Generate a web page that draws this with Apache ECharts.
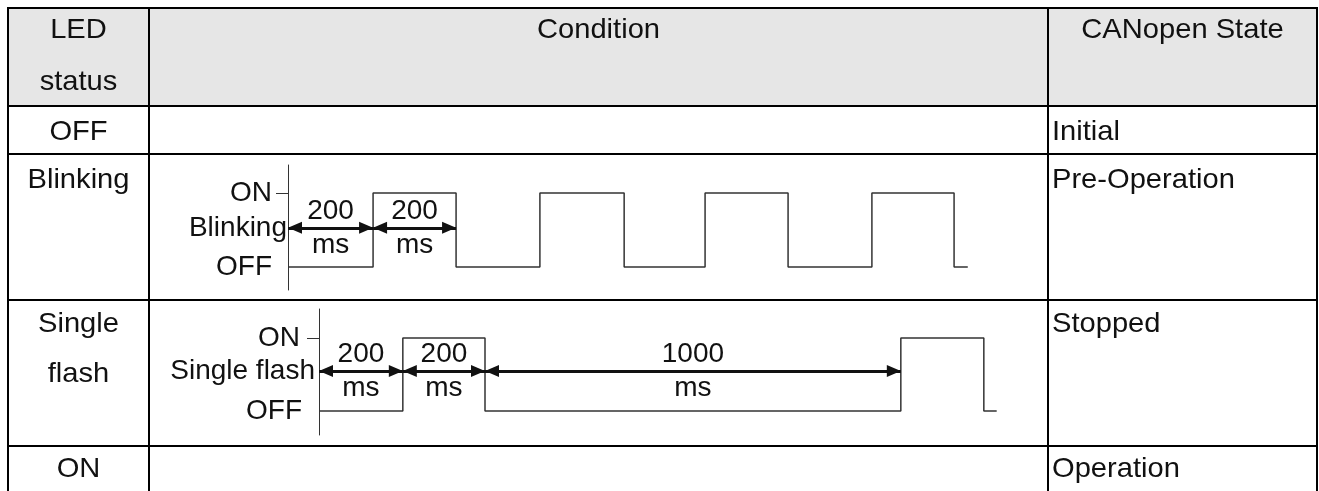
<!DOCTYPE html>
<html><head><meta charset="utf-8">
<script src="https://cdn.jsdelivr.net/npm/echarts@6/dist/echarts.min.js"></script>
<style>html,body{margin:0;padding:0;background:#fff}#c{width:1319px;height:491px}</style>
</head><body><div id="c"></div><script>
// ---- table texts ----
const headerLed = ['LED', 'status'];
const headerCondition = 'Condition';
const headerState = 'CANopen State';
const ledStatus = [['OFF'], ['Blinking'], ['Single', 'flash'], ['ON']];
const canStates = ['Initial', 'Pre-Operation', 'Stopped', 'Operation'];

// ---- Blinking waveform (time in ms, level 0 = OFF, 1 = ON) ----
const blinkTimes  = [0, 205, 405, 607, 810, 1005, 1205, 1407, 1605, 1638];
const blinkLevels = [0, 1, 0, 1, 0, 1, 0, 1, 0, 0];
const blinkSpanStart = [0, 205];
const blinkSpanEnd   = [205, 405];
const blinkSpanValue = ['200', '200'];
const blinkAxisNames = ['OFF', 'Blinking', 'ON'];

// ---- Single flash waveform ----
const flashTimes  = [0, 202, 400, 1402, 1602, 1633];
const flashLevels = [0, 1, 0, 1, 0, 0];
const flashSpanStart = [0, 202, 400];
const flashSpanEnd   = [202, 400, 1402];
const flashSpanValue = ['200', '200', '1000'];
const flashAxisNames = ['OFF', 'Single flash', 'ON'];
const spanUnit = 'ms';

// ---- layout ----
const colX = [8, 149, 1048, 1317];
const rowY = [8, 106, 154, 300, 446];
const FONT = 'Liberation Sans, Arial, sans-serif';
const FS = 28;
const TXT = '#111';
// arrow head: tip at the symbol centre so it touches the end point
const ARROW = 'path://M6,14L12,28L0,28Z M6,0L6.01,0';

const g = [];
g.push({type: 'rect', silent: true, z: 0,
  shape: {x: colX[0], y: rowY[0], width: colX[3] - colX[0], height: rowY[1] - rowY[0]},
  style: {fill: '#e6e6e6'}});
rowY.forEach(y => g.push({type: 'line', silent: true, z: 2,
  shape: {x1: colX[0] - 1, y1: y, x2: colX[3] + 1, y2: y}, style: {stroke: '#000', lineWidth: 2}}));
colX.forEach(x => g.push({type: 'line', silent: true, z: 2,
  shape: {x1: x, y1: rowY[0] - 1, x2: x, y2: 491}, style: {stroke: '#000', lineWidth: 2}}));

function txt(s, x, y, align) {
  g.push({type: 'text', silent: true, z: 3, x: x, y: y, scaleX: 1.04,
    style: {text: s, fontSize: FS, fontFamily: FONT, fill: TXT,
      align: align, verticalAlign: 'middle', textAlign: align, textVerticalAlign: 'middle'}});
}
const c1 = (colX[0] + colX[1]) / 2, c2 = (colX[1] + colX[2]) / 2, c3 = (colX[2] + colX[3]) / 2;
txt(headerLed[0], c1, 30, 'center');
txt(headerLed[1], c1, 82, 'center');
txt(headerCondition, c2, 30, 'center');
txt(headerState, c3, 30, 'center');
const firstLine = [132, 180, 324, 469];
ledStatus.forEach((lines, i) => lines.forEach((s, j) => txt(s, c1, firstLine[i] + j * 50, 'center')));
canStates.forEach((s, i) => txt(s, colX[2] + 4, firstLine[i], 'left'));

function yAxisFor(idx, min, max, names, midVal, pads) {
  const vals = [0, midVal, 1];
  return {
    type: 'value', gridIndex: idx, min: min, max: max,
    axisLine: {show: true, lineStyle: {color: '#333', width: 1}},
    splitLine: {show: false},
    axisTick: {show: true, customValues: [1], length: 12, inside: false, lineStyle: {color: '#333', width: 1}},
    axisLabel: {
      show: true, customValues: vals, margin: 1,
      formatter: function (v) {
        let k = 0, best = 9;
        vals.forEach((vv, i) => { if (Math.abs(vv - v) < best) { best = Math.abs(vv - v); k = i; } });
        return '{p' + k + '|' + names[k] + '}';
      },
      rich: {
        p0: {fontSize: FS, fontFamily: FONT, color: TXT, padding: [0, pads[0], 0, 0]},
        p1: {fontSize: FS, fontFamily: FONT, color: TXT, padding: [0, pads[1], 0, 0]},
        p2: {fontSize: FS, fontFamily: FONT, color: TXT, padding: [0, pads[2], 0, 0]}
      }
    }
  };
}
function xAxisFor(idx) {
  return {type: 'value', gridIndex: idx, min: 0, max: 1700, show: false,
    axisLine: {show: false}, axisTick: {show: false}, axisLabel: {show: false}, splitLine: {show: false}};
}
function waveSeries(idx, times, levels, starts, ends, values, arrowY) {
  return {
    type: 'line', xAxisIndex: idx, yAxisIndex: idx, step: 'end', symbol: 'none',
    silent: true, animation: false,
    data: times.map((t, i) => [t, levels[i]]),
    lineStyle: {color: '#333', width: 1.5},
    markLine: {
      silent: true, animation: false,
      symbol: [ARROW, ARROW], symbolSize: [12, 28],
      lineStyle: {color: '#111', width: 3, type: 'solid'},
      emphasis: {disabled: true},
      label: {show: true, position: 'insideMiddle', formatter: p => p.name,
        fontSize: FS, fontFamily: FONT, color: TXT, lineHeight: 34},
      data: starts.map((s, i) => [
        {coord: [s, arrowY], name: values[i] + '\n' + spanUnit},
        {coord: [ends[i], arrowY]}
      ])
    }
  };
}

const chart = echarts.init(document.getElementById('c'), null, {renderer: 'canvas'});
chart.setOption({
  animation: false,
  backgroundColor: '#fff',
  graphic: g,
  grid: [
    {left: 288, top: 165, width: 705.5, height: 125},
    {left: 319, top: 309, width: 705.5, height: 126}
  ],
  xAxis: [xAxisFor(0), xAxisFor(1)],
  yAxis: [
    yAxisFor(0, -0.31, 1.38, blinkAxisNames, 0.53, [15, 0, 15]),
    yAxisFor(1, -0.329, 1.397, flashAxisNames, 0.548, [16, 3, 18])
  ],
  series: [
    waveSeries(0, blinkTimes, blinkLevels, blinkSpanStart, blinkSpanEnd, blinkSpanValue, 0.53),
    waveSeries(1, flashTimes, flashLevels, flashSpanStart, flashSpanEnd, flashSpanValue, 0.548)
  ]
});
</script></body></html>
